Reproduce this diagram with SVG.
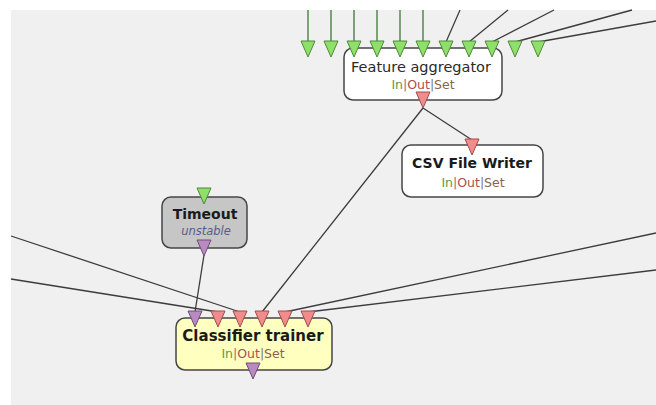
<svg xmlns="http://www.w3.org/2000/svg" width="656" height="405" viewBox="0 0 656 405">
  <defs>
    <style>
      .wire { fill: none; stroke: #3c3c3c; stroke-width: 1.3; }
      .wire-g { fill: none; stroke: #5e8f55; stroke-width: 1.6; }
      .box { stroke: #454545; stroke-width: 1.5; }
      .title { font-family: "DejaVu Sans", Verdana, sans-serif; font-size: 14px; fill: #2a2a2a; text-anchor: middle; }
      .bold { font-weight: bold; fill: #1a1a1a; }
      .ports { font-family: "DejaVu Sans", Verdana, sans-serif; font-size: 12.5px; text-anchor: middle; fill: #777; }
      .pin { fill: #5f9a4a; }
      .pout { fill: #a84f4f; }
      .pset { fill: #8a6448; }
      .state { font-family: "DejaVu Sans", Verdana, sans-serif; font-size: 11.5px; font-style: italic; fill: #5a5a8c; text-anchor: middle; }
    </style>
    <path id="tri" d="M -7 0 L 7 0 L 0 16 Z"/>
  </defs>

  <!-- canvas -->
  <rect x="0" y="0" width="656" height="405" fill="#ffffff"/>
  <rect x="11" y="10" width="645" height="395" fill="#f0f0f0"/>

  <!-- connectors -->
  <g id="connectors">
    <line class="wire-g" x1="308" y1="10" x2="308" y2="41"/>
    <line class="wire-g" x1="331" y1="10" x2="331" y2="41"/>
    <line class="wire-g" x1="354" y1="10" x2="354" y2="41"/>
    <line class="wire-g" x1="377" y1="10" x2="377" y2="41"/>
    <line class="wire-g" x1="400" y1="10" x2="400" y2="41"/>
    <line class="wire-g" x1="423" y1="10" x2="423" y2="41"/>
    <line class="wire" x1="460" y1="10" x2="446" y2="42"/>
    <line class="wire" x1="508" y1="10" x2="469" y2="42"/>
    <line class="wire" x1="554" y1="10" x2="492" y2="42"/>
    <line class="wire" x1="632" y1="10" x2="515" y2="42"/>
    <line class="wire" x1="656" y1="21" x2="538" y2="42"/>
    <line class="wire" x1="423" y1="108" x2="472" y2="140"/>
    <line class="wire" x1="423" y1="108" x2="262" y2="312"/>
    <line class="wire" x1="204" y1="255" x2="195" y2="312"/>
    <line class="wire" x1="11" y1="236" x2="240" y2="312"/>
    <line class="wire" x1="11" y1="279" x2="218" y2="312"/>
    <line class="wire" x1="656" y1="233" x2="285" y2="312"/>
    <line class="wire" x1="656" y1="270" x2="308" y2="312"/>
  </g>

  <!-- Feature aggregator -->
  <g id="feature-aggregator">
    <rect class="box" x="344" y="48" width="158" height="52" rx="9" fill="#ffffff"/>
    <text class="title" x="421" y="72" style="font-size:14.5px">Feature aggregator</text>
    <text class="ports" x="423" y="89"><tspan class="pin">In</tspan>|<tspan class="pout">Out</tspan>|<tspan class="pset">Set</tspan></text>
    <g fill="#8ee06a" stroke="#4f8a3a" stroke-width="1">
      <use href="#tri" x="308" y="41"/>
      <use href="#tri" x="331" y="41"/>
      <use href="#tri" x="354" y="41"/>
      <use href="#tri" x="377" y="41"/>
      <use href="#tri" x="400" y="41"/>
      <use href="#tri" x="423" y="41"/>
      <use href="#tri" x="446" y="41"/>
      <use href="#tri" x="469" y="41"/>
      <use href="#tri" x="492" y="41"/>
      <use href="#tri" x="515" y="41"/>
      <use href="#tri" x="538" y="41"/>
    </g>
    <use href="#tri" x="423" y="92" fill="#f08c8c" stroke="#a04c4c" stroke-width="1"/>
  </g>

  <!-- CSV File Writer -->
  <g id="csv-file-writer">
    <rect class="box" x="402" y="145" width="141" height="52" rx="9" fill="#ffffff"/>
    <text class="title bold" x="472" y="168">CSV File Writer</text>
    <text class="ports" x="473" y="187"><tspan class="pin">In</tspan>|<tspan class="pout">Out</tspan>|<tspan class="pset">Set</tspan></text>
    <use href="#tri" x="472" y="139" fill="#f08c8c" stroke="#a04c4c" stroke-width="1"/>
  </g>

  <!-- Timeout -->
  <g id="timeout">
    <rect class="box" x="162" y="197" width="85" height="51" rx="9" fill="#c6c6c6"/>
    <text class="title bold" x="205" y="219">Timeout</text>
    <text class="state" x="206" y="235">unstable</text>
    <use href="#tri" x="204" y="188" fill="#8ee06a" stroke="#4f8a3a" stroke-width="1"/>
    <use href="#tri" x="204" y="240" fill="#b88ac0" stroke="#6e4e78" stroke-width="1"/>
  </g>

  <!-- Classifier trainer -->
  <g id="classifier-trainer">
    <rect class="box" x="176" y="318" width="156" height="52" rx="9" fill="#ffffc0"/>
    <text class="title bold" x="253" y="341" style="font-size:15px">Classifier trainer</text>
    <text class="ports" x="253" y="358"><tspan class="pin">In</tspan>|<tspan class="pout">Out</tspan>|<tspan class="pset">Set</tspan></text>
    <use href="#tri" x="195" y="311" fill="#b88ac0" stroke="#6e4e78" stroke-width="1"/>
    <g fill="#f08c8c" stroke="#a04c4c" stroke-width="1">
      <use href="#tri" x="218" y="311"/>
      <use href="#tri" x="240" y="311"/>
      <use href="#tri" x="262" y="311"/>
      <use href="#tri" x="285" y="311"/>
      <use href="#tri" x="308" y="311"/>
    </g>
    <use href="#tri" x="253" y="363" fill="#b88ac0" stroke="#6e4e78" stroke-width="1"/>
  </g>
</svg>
